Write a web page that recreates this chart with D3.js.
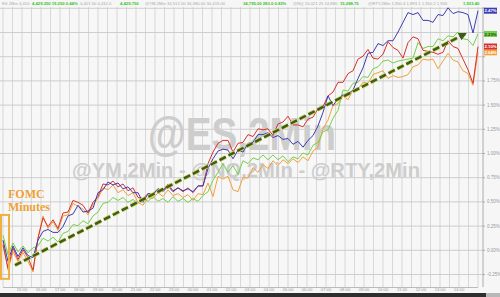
<!DOCTYPE html>
<html><head><meta charset="utf-8">
<script src="https://cdn.jsdelivr.net/npm/d3@7"></script>
<style>html,body{margin:0;padding:0;background:#f6f6f6;}svg{display:block;}</style>
</head><body>
<svg id="c" width="500" height="297"></svg>
<script>
// ---- data (percent change since FOMC minutes, 2-min bars) ----
const seriesNames = ["RTY", "ES", "YM", "NQ"];
const ytd_RTY = [0.08,-0.21,-0.02,-0.12,-0.03,-0.12,-0.23,0.12,0.35,0.22,
 0.29,0.20,0.35,0.36,0.48,0.45,0.42,0.36,0.47,0.53,
 0.64,0.62,0.67,0.59,0.62,0.56,0.59,0.49,0.46,0.54,
 0.53,0.59,0.55,0.62,0.56,0.58,0.54,0.57,0.51,0.58,
 0.57,0.69,0.55,0.76,0.73,0.76,0.62,0.60,0.75,0.74,
 0.85,0.80,0.88,0.84,0.92,0.87,0.93,0.89,0.94,0.90,
 0.96,0.92,1.02,1.06,1.25,1.34,1.49,1.51,1.59,1.55,
 1.65,1.66,1.73,1.72,1.81,1.83,1.85,1.77,1.80,1.78,
 1.79,1.81,1.89,1.91,1.97,1.96,1.97,1.87,1.95,2.03,
 1.96,1.94,1.85,1.82,1.70,2.04];
const ytd_ES = [0.15,-0.05,0.07,-0.02,0.04,-0.03,0.02,0.04,0.12,0.09,
 0.13,0.08,0.17,0.19,0.26,0.25,0.30,0.27,0.35,0.39,
 0.48,0.49,0.54,0.51,0.54,0.49,0.52,0.48,0.53,0.50,
 0.55,0.50,0.53,0.49,0.55,0.50,0.53,0.49,0.53,0.50,
 0.56,0.60,0.72,0.80,0.89,0.80,0.87,0.78,0.92,0.89,
 0.95,0.93,0.98,0.93,0.98,0.93,0.97,0.91,0.96,0.94,
 1.00,0.98,1.08,1.11,1.22,1.24,1.36,1.44,1.65,1.64,
 1.72,1.73,1.79,1.78,1.87,1.89,1.95,1.96,1.93,1.95,
 1.96,1.97,1.98,2.14,2.08,2.10,2.10,2.18,2.16,2.21,
 2.20,2.25,2.18,2.17,2.11,2.23];
const ytd_YM = [0.05,-0.19,0.02,-0.10,0.00,-0.08,-0.21,0.12,0.33,0.24,
 0.31,0.22,0.38,0.39,0.51,0.49,0.46,0.38,0.49,0.55,
 0.68,0.67,0.71,0.65,0.68,0.61,0.64,0.54,0.53,0.58,
 0.58,0.63,0.61,0.68,0.61,0.64,0.60,0.64,0.59,0.66,
 0.66,0.89,1.01,1.10,1.13,1.13,1.01,1.10,1.11,1.19,
 1.17,1.25,1.24,1.25,1.18,1.30,1.32,1.38,1.29,1.29,
 1.27,1.35,1.37,1.46,1.48,1.59,1.63,1.73,1.73,1.82,
 1.85,1.97,2.00,2.07,1.98,1.97,2.02,2.15,2.09,2.06,
 1.98,2.14,2.20,2.18,2.06,2.05,2.04,2.02,2.04,2.16,
 2.10,2.08,1.97,1.86,1.72,2.10];
const ytd_NQ = [0.10,-0.12,0.04,-0.07,0.02,-0.06,-0.08,0.10,0.19,0.21,
 0.18,0.18,0.24,0.35,0.37,0.46,0.39,0.40,0.43,0.59,
 0.62,0.70,0.67,0.69,0.63,0.65,0.59,0.59,0.49,0.58,
 0.57,0.63,0.60,0.66,0.60,0.64,0.61,0.63,0.60,0.66,
 0.66,0.84,0.94,1.02,1.04,1.03,0.94,1.03,1.01,1.10,
 1.11,1.19,1.19,1.21,1.16,1.18,1.14,1.15,1.09,1.12,
 1.06,1.13,1.18,1.28,1.42,1.59,1.49,1.56,1.60,1.61,
 1.65,1.77,1.88,2.03,2.04,2.13,2.11,2.16,2.16,2.25,
 2.35,2.45,2.43,2.45,2.37,2.37,2.35,2.43,2.42,2.50,
 2.44,2.46,2.45,2.43,2.24,2.47];
const seriesColors = ["#f2a03c", "#74d04a", "#d8302c", "#3c3cb4"];
const yTicks = [-0.25,0,0.25,0.5,0.75,1,1.25,1.5,1.75,2,2.25,2.5];
const hourLabels = ["15:00","16:00","17:00","18:00","19:00","20:00","21:00","22:00","23:00","00:00",
 "01:00","02:00","03:00","04:00","05:00","06:00","07:00","08:00","09:00","10:00","11:00","12:00","13:00","14:00"];
const headerItems = [
 {t:"ES 2Min 4,410", green:false},
 {t:"4,429.250 19.250 0.44%", green:true},
 {t:"4,401.50 4,412.0", green:false},
 {t:"4,429.750", green:true},
 {t:"@YM,2Min 34,512.00 34,380.00 34,415.00", green:false},
 {t:"34,795.00 283.0 0.83%", green:true},
 {t:"@NQ 15,021.25 14,880", green:false},
 {t:"15,288.75", green:true},
 {t:"@RTY,2Min 1,900.4 1,893.1 1,910.2 1,905", green:false},
 {t:"1,933.40", green:true}
];
const headerX = [2, 32, 80, 120, 145, 243, 293, 340, 368, 463];
const arrowFrom = {i: 2.4, v: -0.16};
const arrowTo = {i: 92.4, v: 2.23};
const fomcIdx = [-0.4, 1.2];
const fomcVals = [0.36, -0.30];

// ---- scales ----
const svg = d3.select("#c");
const W = 500, H = 297, plotR = 483, plotT = 7, plotB = 287;
const n = ytd_YM.length;
const x = d3.scaleLinear().domain([0, n - 1]).range([3, 478]);
const y = d3.scaleLinear().domain([-0.25, 2.5]).range([274, 7.8]);
const xt = d3.scaleLinear().domain([0, 25]).range([2.5, 477.5]);
const series = [ytd_RTY, ytd_ES, ytd_YM, ytd_NQ];
const lastVals = series.map(s => s[s.length - 1]);

svg.append("rect").attr("width", W).attr("height", H).attr("fill", "#f6f6f6");
svg.append("rect").attr("x", 0).attr("y", plotT).attr("width", plotR).attr("height", plotB - plotT).attr("fill", "#f7f7f7");

// vertical grid (every half hour)
svg.append("g").attr("transform", `translate(0,${plotB})`)
  .call(d3.axisBottom(xt).tickValues(d3.range(0, 25.01, 0.5)).tickSize(-(plotB - plotT)).tickFormat(""))
  .call(g => g.select(".domain").remove())
  .call(g => g.selectAll("line").attr("stroke", "#cfcfcf").attr("stroke-width", 0.8));
// horizontal grid
svg.append("g")
  .call(d3.axisLeft(y).tickValues(yTicks).tickSize(-plotR).tickFormat(""))
  .call(g => g.select(".domain").remove())
  .call(g => g.selectAll("line").attr("stroke", "#c8c8c8").attr("stroke-width", 0.9));

// right axis
svg.append("line").attr("x1", plotR).attr("x2", plotR).attr("y1", plotT).attr("y2", plotB).attr("stroke", "#9a9a9a").attr("stroke-width", 0.8);
svg.append("g").attr("transform", `translate(${plotR},0)`)
  .call(d3.axisRight(y).tickValues(yTicks).tickSize(2).tickFormat(d => d.toFixed(2) + "%"))
  .call(g => g.select(".domain").remove())
  .call(g => g.selectAll("line").attr("stroke", "#aaa"))
  .call(g => g.selectAll("text").attr("fill", "#999").attr("font-size", 4.5).attr("font-family", "Arial, Liberation Sans").attr("dx", -1))
  .call(g => g.selectAll(".tick").filter(d => lastVals.some(v => Math.abs(y(v) - y(d)) < 6)).select("text").remove());

// bottom axis
svg.append("g").attr("transform", `translate(0,${plotB})`)
  .call(d3.axisBottom(xt).tickValues(d3.range(1, 25)).tickSize(0).tickFormat(d => hourLabels[d - 1]))
  .call(g => g.select(".domain").attr("stroke", "#bbb"))
  .call(g => g.selectAll("text").attr("fill", "#999").attr("font-size", 4.2).attr("font-family", "Arial, Liberation Sans").attr("dy", "0.2em"));

// bottom bar
svg.append("rect").attr("x", 0).attr("y", 293).attr("width", 486).attr("height", 4).attr("fill", "#2e2e2e");
svg.append("rect").attr("x", 486).attr("y", 293).attr("width", 14).attr("height", 4).attr("fill", "#b8b8b8");

// header
const hdr = svg.append("g");
headerItems.forEach((h, k) => {
  hdr.append("text").attr("x", headerX[k]).attr("y", 4.6).text(h.t)
    .attr("font-size", 4.2).attr("font-family", "Arial, Liberation Sans")
    .attr("font-weight", h.green ? "bold" : "normal")
    .attr("fill", h.green ? "#33c41f" : "#a8a8a8");
});

// watermark
svg.append("text").attr("x", 148).attr("y", 150).text("@ES,2Min")
  .attr("font-family", "Arial, Liberation Sans").attr("font-weight", "bold").attr("font-size", 46)
  .attr("textLength", 188).attr("lengthAdjust", "spacingAndGlyphs").attr("fill", "#cdcdcd");
svg.append("text").attr("x", 72).attr("y", 177).text("@YM,2Min - @NQ,2Min - @RTY,2Min")
  .attr("font-family", "Arial, Liberation Sans").attr("font-weight", "bold").attr("font-size", 20)
  .attr("textLength", 348).attr("lengthAdjust", "spacingAndGlyphs").attr("fill", "#cdcdcd");

// series lines
const line = d3.line().x((d, i) => x(i)).y(d => y(d));
series.forEach((s, k) => {
  svg.append("path").datum(s).attr("d", line).attr("fill", "none")
    .attr("stroke", seriesColors[k]).attr("stroke-width", 1).attr("stroke-linejoin", "round");
});

// FOMC box + text
svg.append("rect").attr("x", x(fomcIdx[0])).attr("y", y(fomcVals[0]))
  .attr("width", x(fomcIdx[1]) - x(fomcIdx[0])).attr("height", y(fomcVals[1]) - y(fomcVals[0]))
  .attr("fill", "none").attr("stroke", "#f0b040").attr("stroke-width", 2);
svg.append("text").attr("x", 8).attr("y", 198).text("FOMC")
  .attr("font-family", "Liberation Serif, Times New Roman, serif").attr("font-weight", "bold").attr("font-size", 12).attr("fill", "#eea236");
svg.append("text").attr("x", 8).attr("y", 211).text("Minutes")
  .attr("font-family", "Liberation Serif, Times New Roman, serif").attr("font-weight", "bold").attr("font-size", 12).attr("fill", "#eea236");

// dashed trend arrow
const ax1 = x(arrowFrom.i), ay1 = y(arrowFrom.v), ax2 = x(arrowTo.i), ay2 = y(arrowTo.v);
svg.append("line").attr("x1", ax1).attr("y1", ay1).attr("x2", ax2).attr("y2", ay2)
  .attr("stroke", "#c9d45a").attr("stroke-width", 4).attr("stroke-dasharray", "7 3");
svg.append("line").attr("x1", ax1).attr("y1", ay1).attr("x2", ax2).attr("y2", ay2)
  .attr("stroke", "#3f5a1b").attr("stroke-width", 2.4).attr("stroke-dasharray", "7 3");
const ang = Math.atan2(ay2 - ay1, ax2 - ax1);
const hl = 8, hw = 4;
const tip = [ax2 + Math.cos(ang) * 2, ay2 + Math.sin(ang) * 2];
const b1 = [tip[0] - hl * Math.cos(ang) + hw * Math.sin(ang), tip[1] - hl * Math.sin(ang) - hw * Math.cos(ang)];
const b2 = [tip[0] - hl * Math.cos(ang) - hw * Math.sin(ang), tip[1] - hl * Math.sin(ang) + hw * Math.cos(ang)];
svg.append("polygon").attr("points", [tip, b1, b2].map(p => p.join(",")).join(" ")).attr("fill", "#3f5a1b");

// last value labels
series.forEach((s, k) => {
  const v = lastVals[k];
  const g = svg.append("g").attr("transform", `translate(${plotR + 1},${y(v)})`);
  g.append("rect").attr("x", 0).attr("y", -3).attr("width", 13).attr("height", 6).attr("fill", seriesColors[k]);
  g.append("text").attr("x", 6.5).attr("y", 1.6).attr("text-anchor", "middle").text(v.toFixed(2) + "%")
    .attr("font-size", 4.3).attr("font-weight", "bold").attr("font-family", "Arial, Liberation Sans")
    .attr("fill", k === 1 ? "#1a4a10" : "#fff");
});
</script>
</body></html>
